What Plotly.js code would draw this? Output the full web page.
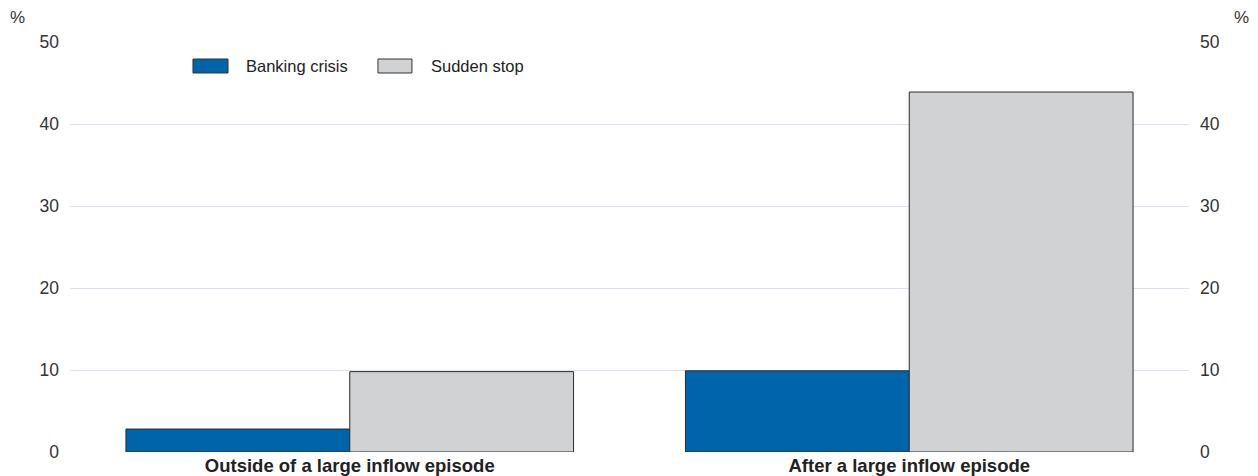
<!DOCTYPE html>
<html><head><meta charset="utf-8">
<script src="https://cdn.plot.ly/plotly-3.0.1.min.js"></script>
<style>html,body{margin:0;padding:0;background:#fff}#chart{width:1258px;height:476px}</style>
</head><body><div id="chart"></div>
<script>
const categories = ["Outside of a large inflow episode", "After a large inflow episode"];
const bankingCrisis = [2.8, 9.9];
const suddenStop = [9.8, 43.9];
const seriesNames = ["Banking crisis", "Sudden stop"];
const seriesColors = ["#0064ab", "#d0d2d4"];
const yTicks = [0, 10, 20, 30, 40, 50];

const FONT = "Liberation Sans, Arial, Helvetica, sans-serif";
const outline = {color: "#2b2b2b", width: 1};

const traces = [
  {type: "bar", name: seriesNames[0], x: categories, y: bankingCrisis,
   marker: {color: seriesColors[0], line: outline}, hoverinfo: "y"},
  {type: "bar", name: seriesNames[1], x: categories, y: suddenStop,
   marker: {color: seriesColors[1], line: outline}, hoverinfo: "y"},
  {type: "bar", x: categories, y: suddenStop, yaxis: "y2", showlegend: false,
   marker: {color: "rgba(0,0,0,0)"}, hoverinfo: "skip"}
];

// legend keys (layout decoration, paper coordinates)
const legendKeys = [
  {x0: 0.1099, x1: 0.1412, tx: 0.1555},
  {x0: 0.2752, x1: 0.3056, tx: 0.3208}
];
const shapes = legendKeys.map((k, i) => ({
  type: "rect", xref: "paper", yref: "paper", x0: k.x0, x1: k.x1, y0: 0.9244, y1: 0.9585,
  fillcolor: seriesColors[i], line: {color: "#333", width: 1}
}));
const annotations = legendKeys.map((k, i) => ({
  text: seriesNames[i], xref: "paper", yref: "paper", x: k.tx, y: 0.9415,
  xanchor: "left", yanchor: "middle", showarrow: false, font: {size: 16.5, color: "#222"}
}));
annotations.push(
  {text: "%", xref: "paper", yref: "paper", x: -0.047, y: 1.06, xanchor: "center", yanchor: "middle",
   showarrow: false, font: {size: 17, color: "#333"}},
  {text: "%", xref: "paper", yref: "paper", x: 1.047, y: 1.06, xanchor: "center", yanchor: "middle",
   showarrow: false, font: {size: 17, color: "#333"}}
);

const layout = {
  width: 1258, height: 476,
  margin: {l: 70, r: 69, t: 42, b: 24},
  paper_bgcolor: "#fff", plot_bgcolor: "#fff",
  font: {family: FONT, size: 15, color: "#222"},
  barmode: "group", bargap: 0.2, bargroupgap: 0,
  showlegend: false,
  xaxis: {type: "category", showgrid: false, zeroline: false, showline: false,
          ticks: "", tickfont: {size: 18.5, weight: "bold", color: "#222"}, fixedrange: true},
  yaxis: {range: [0, 50], tickvals: yTicks, showgrid: true, gridcolor: "#dbe2ef", gridwidth: 1,
          zeroline: false, showline: false, ticks: "", ticklabelstandoff: 10,
          tickfont: {size: 17.5, color: "#333"}, fixedrange: true},
  yaxis2: {range: [0, 50], tickvals: yTicks, overlaying: "y", side: "right", showgrid: false,
           zeroline: false, showline: false, ticks: "", ticklabelstandoff: 10,
           tickfont: {size: 17.5, color: "#333"}, fixedrange: true},
  shapes: shapes,
  annotations: annotations
};

Plotly.newPlot("chart", traces, layout, {displayModeBar: false, staticPlot: true});
</script></body></html>
